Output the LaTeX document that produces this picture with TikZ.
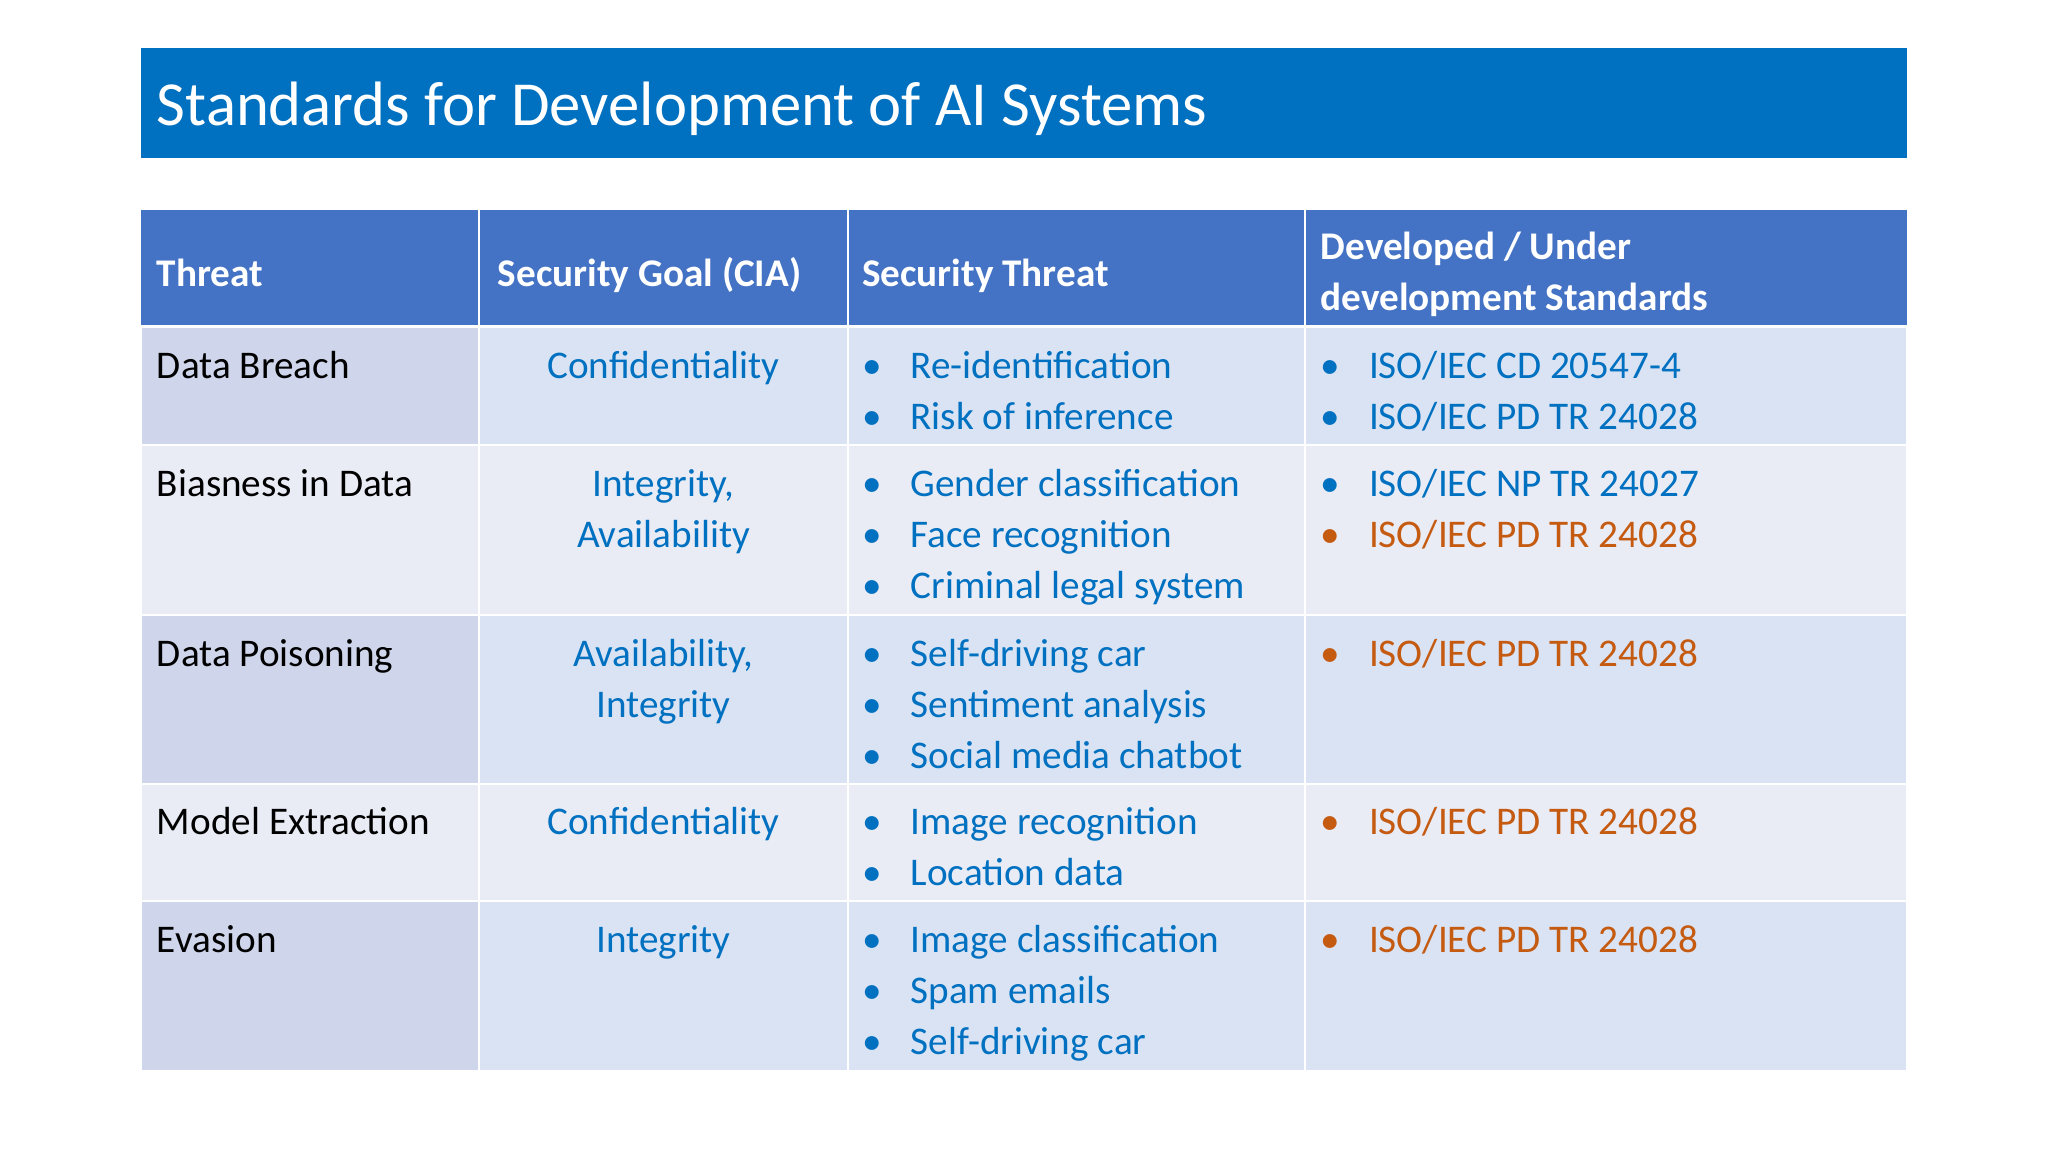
\documentclass[tikz,border=0pt]{standalone}
\usepackage{fontspec}
\setmainfont{Carlito}
\definecolor{titleblue}{HTML}{0070C0}
\definecolor{headblue}{HTML}{4472C4}
\definecolor{txtblue}{HTML}{0070C0}
\definecolor{orng}{HTML}{C55A11}
\definecolor{darkc}{HTML}{CFD5EA}
\definecolor{oddc}{HTML}{DAE3F3}
\definecolor{evenc}{HTML}{E9EBF5}
\begin{document}
\begin{tikzpicture}[x=1pt,y=-1pt,
  body/.style={font=\fontsize{30}{36}\selectfont,inner sep=0pt,anchor=base west},
  hd/.style={body,font=\fontsize{30}{36}\selectfont\bfseries,text=white},
  bl/.style={body,text=txtblue},
  og/.style={body,text=orng},
  ct/.style={body,anchor=base,text=txtblue},
  cell/.style={draw=white,line width=1.5pt}]
\useasboundingbox (0,0) rectangle (1568,882);
\fill[white] (0,0) rectangle (1568,882);
\fill[titleblue] (108,37) rectangle (1460,121);
\node[body,font=\fontsize{48}{56}\selectfont,text=white] (title) at (120,96) {Standards for Development of AI Systems};
% header
\fill[headblue] (108,161) rectangle (1460,250);
\foreach \x in {367,649,999}{\draw[white,line width=1.5pt] (\x,161) -- (\x,250);}
% rows
\foreach \a/\b/\i in {250/341/1,341/471/2,471/600/3,600/690/4,690/820/5}{
  \ifodd\i
    \def\ca{darkc}\def\cb{oddc}
  \else
    \def\ca{evenc}\def\cb{evenc}
  \fi
  \filldraw[cell,fill=\ca] (108,\a) rectangle (367,\b);
  \filldraw[cell,fill=\cb] (367,\a) rectangle (649,\b);
  \filldraw[cell,fill=\cb] (649,\a) rectangle (999,\b);
  \filldraw[cell,fill=\cb] (999,\a) rectangle (1460,\b);
}
\fill[white] (108,248.5) rectangle (1460,251.5);
% header text
\node[hd] (h1) at (120,219) {Threat};
\node[hd] (h2) at (381,219) {Security Goal (CIA)};
\node[hd] (h3) at (660,219) {Security Threat};
\node[hd] (h4a) at (1011,199) {Developed / Under};
\node[hd] (h4b) at (1011,238) {development Standards};
% column 1
\node[body] (c11) at (120,290) {Data Breach};
\node[body] (c12) at (120,380) {Biasness in Data};
\node[body] (c13) at (120,510) {Data Poisoning};
\node[body] (c14) at (120,639) {Model Extraction};
\node[body] (c15) at (120,729) {Evasion};
% column 2
\node[ct] (c21) at (508,290) {Confidentiality};
\node[ct] (c22a) at (508,380) {Integrity,};
\node[ct] (c22b) at (508,419) {Availability};
\node[ct] (c23a) at (508,510) {Availability,};
\node[ct] (c23b) at (508,549) {Integrity};
\node[ct] (c24) at (508,639) {Confidentiality};
\node[ct] (c25) at (508,729) {Integrity};
% column 3
\foreach \y/\t [count=\k] in {290/Re-identification,329/Risk of inference,380/Gender classification,419/Face recognition,458/Criminal legal system,510/Self-driving car,549/Sentiment analysis,588/Social media chatbot,639/Image recognition,678/Location data,729/Image classification,768/Spam emails,807/Self-driving car}{
  \node[bl] (b3\k) at (660,\y) {•};
  \node[bl] (t3\k) at (697,\y) {\t};
}
% column 4
\node[bl] (b41) at (1011,290) {•}; \node[bl] (t41) at (1048,290) {ISO/IEC CD 20547-4};
\node[bl] (b42) at (1011,329) {•}; \node[bl] (t42) at (1048,329) {ISO/IEC PD TR 24028};
\node[bl] (b43) at (1011,380) {•}; \node[bl] (t43) at (1048,380) {ISO/IEC NP TR 24027};
\node[og] (b44) at (1011,419) {•}; \node[og] (t44) at (1048,419) {ISO/IEC PD TR 24028};
\node[og] (b45) at (1011,510) {•}; \node[og] (t45) at (1048,510) {ISO/IEC PD TR 24028};
\node[og] (b46) at (1011,639) {•}; \node[og] (t46) at (1048,639) {ISO/IEC PD TR 24028};
\node[og] (b47) at (1011,729) {•}; \node[og] (t47) at (1048,729) {ISO/IEC PD TR 24028};
\end{tikzpicture}
\end{document}
